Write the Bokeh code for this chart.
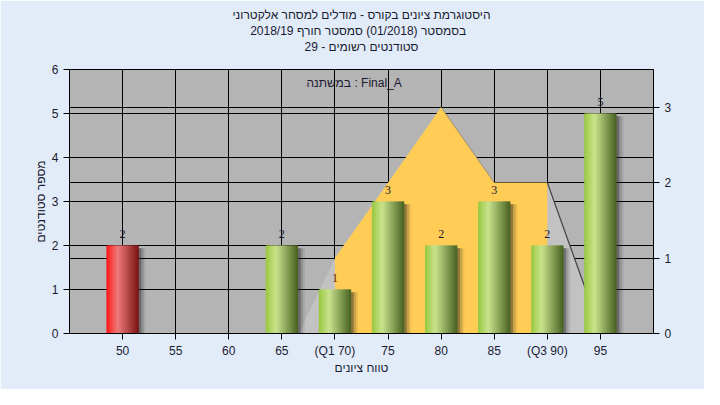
from bokeh.plotting import figure
from bokeh.models import (Range1d, LinearAxis, FixedTicker, Grid, Label, ColumnDataSource, LabelSet, Title)
from bokeh.embed import file_html
from bokeh.resources import INLINE

# ---------------- data ----------------
grades = [50, 55, 60, 65, 70, 75, 80, 85, 90, 95]
counts = [2, 0, 0, 2, 1, 3, 2, 3, 2, 5]
tick_labels = ["50", "55", "60", "65", "(Q1 70)", "75", "80", "85", "(Q3 90)", "95"]
bar_kind = ["fail", "pass", "pass", "pass", "pass", "pass", "pass", "pass", "pass", "pass"]
label_colors = ["#1a1a33", "#1a1a33", "#1a1a33", "#1a1a33", "#7a1a1a", "#1a1a33", "#1a1a33", "#1a1a33", "#1a1a33", "#1a1a33"]

dist_x = [66.6, 70, 75, 80, 85, 90, 95.1]
dist_y = [0, 1, 2, 3, 2, 2, 0]
q1, q3 = 70, 90

title_lines = ["היסטוגרמת ציונים בקורס - מודלים למסחר אלקטרוני",
               "בסמסטר  (01/2018)  סמסטר חורף 2018/19",
               "סטודנטים רשומים - 29"]
var_label = "במשתנה : Final_A"
x_title = "טווח ציונים"
y_title = "מספר סטודנטים"

FONT = "Liberation Sans"
TXT = "#1a1a33"

p = figure(frame_width=584, frame_height=264, x_range=Range1d(45, 100), y_range=Range1d(0, 6),
           output_backend="svg", toolbar_location=None, title=None,
           min_border_left=69, min_border_right=51, min_border_top=69, min_border_bottom=56)
p.extra_y_ranges = {"right": Range1d(0, 3.5)}
p.background_fill_color = "#b4b4b4"
p.border_fill_color = "#e2ecf8"
p.outline_line_color = "black"

# spacer between plot and titles, then titles (later-added sit further from the plot)
p.add_layout(Title(text=" ", text_font_size="12px", standoff=0), "above")
for line in reversed(title_lines):
    p.add_layout(Title(text=line, align="center", text_font=FONT, text_font_size="12px",
                       text_font_style="normal", text_color=TXT, standoff=0, offset=-7), "above")

# axes
xa = p.xaxis[0]
xa.ticker = FixedTicker(ticks=grades)
xa.major_label_overrides = {g: t for g, t in zip(grades, tick_labels)}
ya = p.yaxis[0]
ya.ticker = FixedTicker(ticks=[0, 1, 2, 3, 4, 5, 6])
ra = LinearAxis(y_range_name="right", ticker=FixedTicker(ticks=[0, 1, 2, 3]))
p.add_layout(ra, "right")
for ax in (xa, ya, ra):
    ax.axis_line_color = "black"
    ax.major_tick_line_color = "black"
    ax.major_tick_out = 6
    ax.major_tick_in = 0
    ax.minor_tick_line_color = None
    ax.major_label_text_font = FONT
    ax.major_label_text_font_size = "12px"
    ax.major_label_text_color = TXT
    ax.axis_label_text_font = FONT
    ax.axis_label_text_font_size = "12px"
    ax.axis_label_text_font_style = "normal"
    ax.axis_label_text_color = TXT
xa.axis_label = x_title
ya.axis_label = y_title
ya.axis_label_standoff = 1
xa.major_label_standoff = 4
xa.axis_label_standoff = 0

# grids
p.xgrid.grid_line_color = "black"
p.ygrid.grid_line_color = "black"
p.xgrid.ticker = FixedTicker(ticks=grades)
p.ygrid.ticker = FixedTicker(ticks=[1, 2, 3, 4, 5, 6])
p.add_layout(Grid(dimension=1, ticker=FixedTicker(ticks=[1, 2, 3]), y_range_name="right",
                  grid_line_color="black"))

# distribution area (right axis)
p.patch(dist_x, dist_y, y_range_name="right", fill_color="#c2c2c2", line_color=None)
ox = [q1] + [x for x in dist_x if q1 <= x <= q3] + [q3]
oy = [0] + [y for x, y in zip(dist_x, dist_y) if q1 <= x <= q3] + [0]
p.patch(ox, oy, y_range_name="right", fill_color="#ffcc55", line_color=None)
pk = dist_y.index(max(dist_y))
p.line(dist_x[pk:pk + 2], dist_y[pk:pk + 2], y_range_name="right", line_color="#7a7060", line_alpha=0.6, line_width=1)
p.line(dist_x[-2:], dist_y[-2:], y_range_name="right", line_color="#404040", line_width=1.2)

# bars with cylinder gradient
px = 55.0 / 584.0
W = 3.05
stops = {"pass": [(0.0, (152, 200, 62)), (0.32, (202, 227, 142)), (1.0, (70, 96, 32))],
         "fail": [(0.0, (255, 22, 22)), (0.35, (238, 122, 122)), (1.0, (120, 18, 18))]}


def interp(st, t):
    for (t0, c0), (t1, c1) in zip(st[:-1], st[1:]):
        if t0 <= t <= t1:
            f = (t - t0) / (t1 - t0)
            return "#%02x%02x%02x" % tuple(int(round(a + (b - a) * f)) for a, b in zip(c0, c1))
    return "#%02x%02x%02x" % st[-1][1]


# shadows
for off, al in ((2.5, 0.35), (5.0, 0.18), (7.0, 0.08)):
    p.vbar(x=[g + off * px for g, c in zip(grades, counts) if c > 0], width=W,
           top=[c - 0.06 for c in counts if c > 0], bottom=0,
           fill_color="#202020", fill_alpha=al, line_color=None)

N = 18
for i in range(N):
    t = (i + 0.5) / N
    ls, rs, tops, cols = [], [], [], []
    for g, c, k in zip(grades, counts, bar_kind):
        if c <= 0:
            continue
        left = g - W / 2 + i * W / N
        ls.append(left)
        rs.append(min(left + 1.7 * W / N, g + W / 2))
        tops.append(c)
        cols.append(interp(stops[k], t))
    p.quad(left=ls, right=rs, top=tops, bottom=0, fill_color=cols, line_color=None)

# value labels
src = ColumnDataSource(dict(x=[g for g, c in zip(grades, counts) if c > 0],
                            y=[c for c in counts if c > 0],
                            t=[str(c) for c in counts if c > 0],
                            col=[lc for lc, c in zip(label_colors, counts) if c > 0]))
p.add_layout(LabelSet(x="x", y="y", text="t", source=src, text_align="center", text_baseline="bottom",
                      y_offset=8, text_font=FONT, text_font_size="12px", text_color="col"))

# variable label in plot
p.add_layout(Label(x=71.8, y=5.69, text=var_label, text_align="center", text_baseline="middle",
                   text_font=FONT, text_font_size="12px", text_color=TXT))

open("out.html", "w").write(file_html(p, INLINE))
